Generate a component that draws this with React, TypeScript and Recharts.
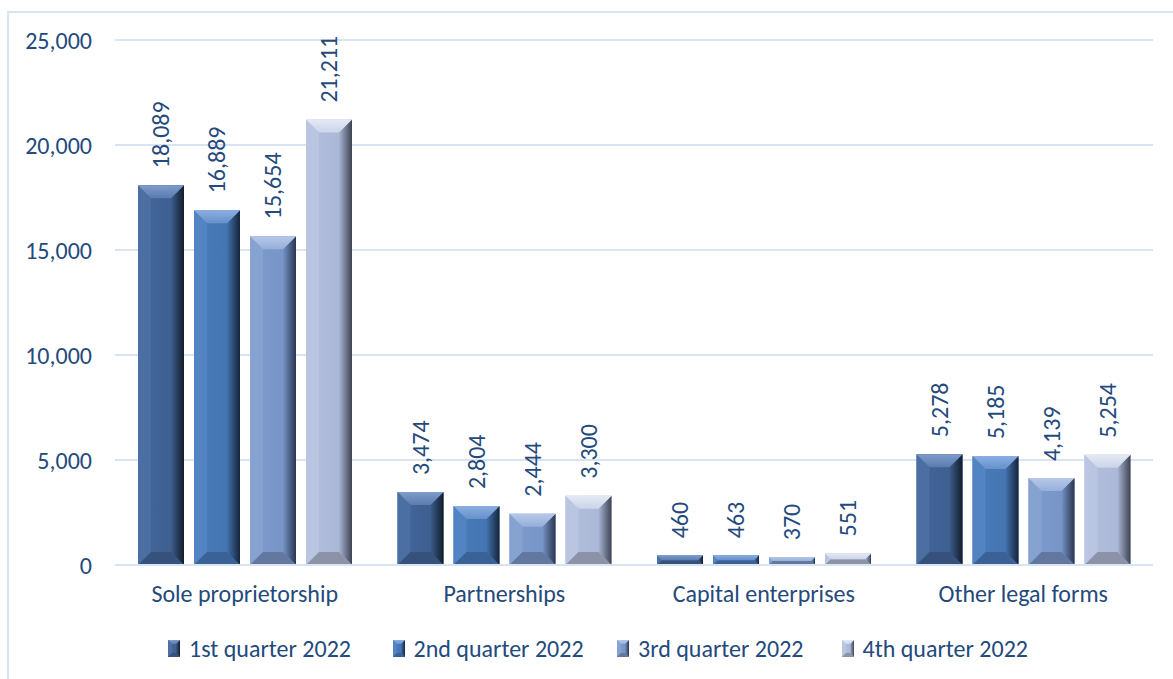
import React from 'react';
import { BarChart, Bar, XAxis, YAxis, CartesianGrid, Legend, LabelList } from 'recharts';

const categories = ['Sole proprietorship', 'Partnerships', 'Capital enterprises', 'Other legal forms'];
const seriesNames = ['1st quarter 2022', '2nd quarter 2022', '3rd quarter 2022', '4th quarter 2022'];
const q1 = [18089, 3474, 460, 5278];
const q2 = [16889, 2804, 463, 5185];
const q3 = [15654, 2444, 370, 4139];
const q4 = [21211, 3300, 551, 5254];
const yTicks = [0, 5000, 10000, 15000, 20000, 25000];

const seriesKeys = ['q1', 'q2', 'q3', 'q4'];
const data = categories.map((c, i) => ({ category: c, q1: q1[i], q2: q2[i], q3: q3[i], q4: q4[i] }));

const FONT = "Carlito, 'Open Sans', sans-serif";
const TEXT = '#244a7c';
const GRID = '#d9e4f2';
const FS = 24;

type Pal = { base: string; baseR: string; top1: string; top2: string; left: string; dark: string; bottom: string };
const PALETTES: Pal[] = [
  { base: '#44669a', baseR: '#3c5d8c', top1: '#7e9ccb', top2: '#5a7cae', left: '#4b6fa2', dark: '#121c2c', bottom: '#36527c' },
  { base: '#4a7cbb', baseR: '#4372ae', top1: '#8aaee0', top2: '#6690cc', left: '#5283c2', dark: '#16243a', bottom: '#3b6297' },
  { base: '#7e9bcc', baseR: '#7593c5', top1: '#b6c8e8', top2: '#95afdb', left: '#86a2d1', dark: '#2a3550', bottom: '#62789f' },
  { base: '#b2bfdc', baseR: '#a8b5d4', top1: '#e4e9f4', top2: '#cbd4ea', left: '#bac6e1', dark: '#3e4352', bottom: '#8c93a8' },
];

function Bevel({ x, y, w, h, pal, id, maxB }: { x: number; y: number; w: number; h: number; pal: Pal; id: string; maxB: number }) {
  if (!(w > 0) || !(h > 0)) return null;
  const b = Math.min(maxB, w / 2, h / 2);
  const r = x + w;
  const bt = y + h;
  return (
    <g>
      <defs>
        <linearGradient id={`${id}-c`} x1="0" y1="0" x2="1" y2="0">
          <stop offset="0%" stopColor={pal.base} />
          <stop offset="100%" stopColor={pal.baseR} />
        </linearGradient>
        <linearGradient id={`${id}-r`} x1="0" y1="0" x2="1" y2="0">
          <stop offset="0%" stopColor={pal.baseR} />
          <stop offset="100%" stopColor={pal.dark} />
        </linearGradient>
        <linearGradient id={`${id}-t`} x1="0" y1="0" x2="0" y2="1">
          <stop offset="0%" stopColor={pal.top1} />
          <stop offset="100%" stopColor={pal.top2} />
        </linearGradient>
      </defs>
      <rect x={x} y={y} width={w} height={h} fill={`url(#${id}-c)`} />
      <polygon points={`${x},${y} ${x + b},${y + b} ${x + b},${bt - b} ${x},${bt}`} fill={pal.left} />
      <polygon points={`${r},${y} ${r},${bt} ${r - b},${bt - b} ${r - b},${y + b}`} fill={`url(#${id}-r)`} />
      <polygon points={`${x},${bt} ${x + b},${bt - b} ${r - b},${bt - b} ${r},${bt}`} fill={pal.bottom} />
      <polygon points={`${x},${y} ${r},${y} ${r - b},${y + b} ${x + b},${y + b}`} fill={`url(#${id}-t)`} />
    </g>
  );
}

function makeShape(i: number) {
  return (p: any) => (
    <Bevel x={p.x} y={p.y} w={p.width} h={p.height} pal={PALETTES[i]} id={`bev${i}`} maxB={13} />
  );
}

function makeLabel() {
  return (p: any) => {
    const { x, y, width, value } = p;
    const cx = Number(x) + Number(width) / 2;
    const ty = Number(y) - 17;
    return (
      <text
        x={cx}
        y={ty}
        transform={`rotate(-90, ${cx}, ${ty})`}
        textAnchor="start"
        dominantBaseline="central"
        fill={TEXT}
        fontSize={FS}
        fontFamily={FONT}
      >
        {Number(value).toLocaleString('en-US')}
      </text>
    );
  };
}

function LegendContent() {
  return (
    <div style={{ height: 40, display: 'flex', alignItems: 'center', paddingLeft: 150, fontFamily: FONT, fontSize: FS, color: TEXT }}>
      {seriesNames.map((n, i) => (
        <div key={n} style={{ display: 'flex', alignItems: 'center', width: i < 3 ? 224.5 : undefined }}>
          <svg width={12} height={17} style={{ marginRight: 9, display: 'block' }}>
            <Bevel x={0} y={0} w={12} h={17} pal={PALETTES[i]} id={`leg${i}`} maxB={4} />
          </svg>
          <span style={{ whiteSpace: 'nowrap' }}>{n}</span>
        </div>
      ))}
    </div>
  );
}

export default function App() {
  return (
    <div style={{ position: 'fixed', left: 0, top: 0, width: 1173, height: 679, overflow: 'hidden', background: '#ffffff' }}>
      <div
        style={{
          position: 'absolute',
          left: 7,
          top: 11,
          width: 1166,
          height: 668,
          boxSizing: 'border-box',
          borderLeft: `2px solid ${GRID}`,
          borderTop: `2px solid ${GRID}`,
        }}
      />
      <div style={{ position: 'absolute', left: 8, top: 8 }}>
        <BarChart
          width={1165}
          height={671}
          data={data}
          margin={{ top: 32, right: 20, left: 10, bottom: 11 }}
          barSize={46}
          barGap={10}
        >
          <CartesianGrid vertical={false} stroke={GRID} strokeWidth={2} />
          <XAxis
            dataKey="category"
            tickLine={false}
            axisLine={{ stroke: GRID, strokeWidth: 2 }}
            height={63}
            tickMargin={14}
            tick={{ fill: TEXT, fontSize: FS, fontFamily: FONT }}
            interval={0}
          />
          <YAxis
            domain={[0, 25000]}
            ticks={yTicks}
            width={97}
            axisLine={false}
            tickLine={false}
            tickMargin={17}
            tick={{ fill: TEXT, fontSize: FS, fontFamily: FONT }}
            tickFormatter={(v: number) => v.toLocaleString('en-US')}
          />
          <Legend verticalAlign="bottom" align="left" content={() => <LegendContent />} wrapperStyle={{ height: 40 }} />
          {seriesKeys.map((k, i) => (
            <Bar key={k} dataKey={k} name={seriesNames[i]} fill={PALETTES[i].base} isAnimationActive={false} shape={makeShape(i)}>
              <LabelList dataKey={k} content={makeLabel()} />
            </Bar>
          ))}
        </BarChart>
      </div>
    </div>
  );
}
